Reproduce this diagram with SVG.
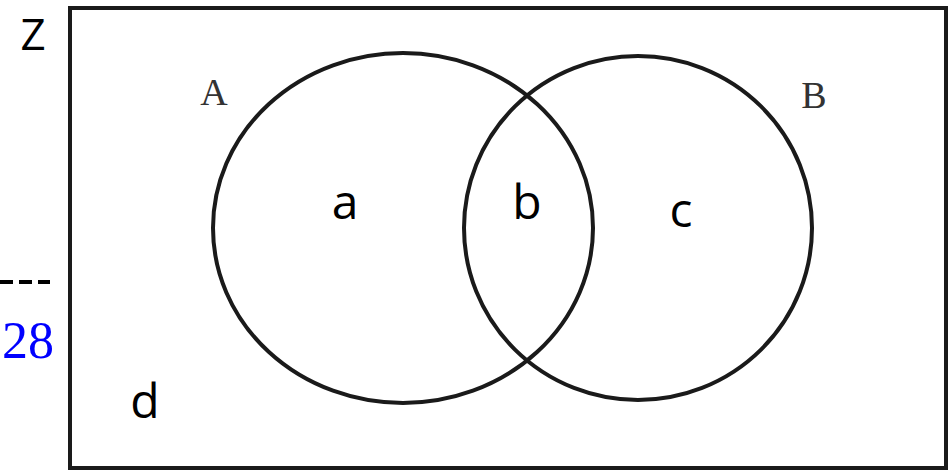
<svg xmlns="http://www.w3.org/2000/svg" width="950" height="474" viewBox="0 0 950 474">
<style>
.ln{fill:none;stroke:#1a1a1a;stroke-width:4}
.lbl{font-family:"Open Sans","Liberation Sans",sans-serif;fill:#000}
.ser{font-family:"Liberation Serif","DejaVu Serif",serif;fill:#333}
.num{font-family:"Liberation Serif","DejaVu Serif",serif;fill:#0000ff}
</style>
<rect width="950" height="474" fill="#fff"/>
<g id="universe"><rect class="ln" x="70" y="8" width="876" height="460"/></g>
<g id="setA"><ellipse class="ln" cx="403" cy="228" rx="190" ry="175"/><text class="ser" x="214" y="105" font-size="38" text-anchor="middle">A</text></g>
<g id="setB"><ellipse class="ln" cx="638" cy="228" rx="174" ry="172"/><text class="ser" x="814" y="108" font-size="38" text-anchor="middle">B</text></g>
<g id="labels">
<text class="lbl" x="33" y="50" font-size="44" text-anchor="middle">Z</text>
<text class="lbl" x="345" y="219" font-size="48" text-anchor="middle">a</text>
<text class="lbl" x="527" y="219" font-size="48" text-anchor="middle">b</text>
<text class="lbl" x="681" y="227" font-size="48" text-anchor="middle">c</text>
<text class="lbl" x="145" y="418" font-size="48" text-anchor="middle">d</text>
<line x1="0" y1="282" x2="50" y2="282" stroke="#000" stroke-width="4" stroke-dasharray="13,6"/>
<text class="num" x="2" y="358" font-size="52">28</text>
</g>
</svg>
